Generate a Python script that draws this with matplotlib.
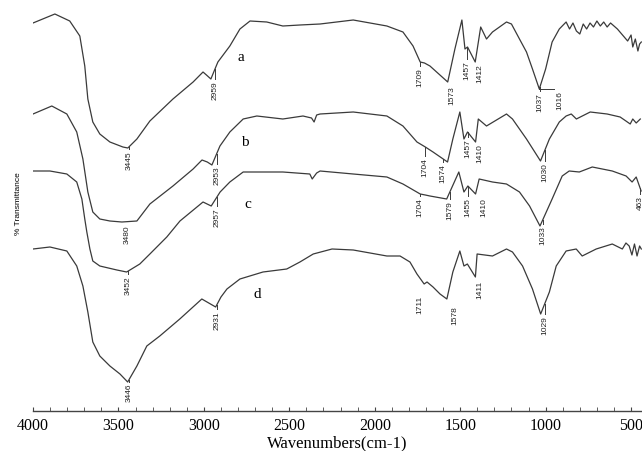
import matplotlib.pyplot as plt
import numpy as np

# FTIR spectra a-d (transmittance in arbitrary offset units)
wn_a = [4000, 3872, 3785, 3726, 3697, 3679, 3650, 3609, 3550, 3474, 3445, 3392, 3316, 3181,
        3063, 3005, 2985, 2959, 2935, 2918, 2848, 2789, 2730, 2632, 2538, 2438, 2320, 2126,
        1929, 1835, 1776, 1734, 1709, 1677, 1573, 1531, 1490, 1472, 1457, 1412, 1380, 1346,
        1311, 1229, 1200, 1153, 1112, 1077, 1037, 1000, 962, 920, 880, 860, 840, 820, 800,
        780, 760, 740, 720, 700, 680, 660, 640, 620, 600, 580, 560, 540, 520, 500, 490, 475,
        460, 450, 440]
t_a = [426, 435, 428, 413, 383, 350, 327, 315, 307, 302, 301, 310, 328, 350,
       367, 377, 374, 370, 380, 387, 403, 420, 428, 427, 423, 424, 425, 429,
       423, 417, 403, 387, 386, 383, 367, 400, 429, 400, 402, 387, 422, 410,
       417, 427, 425, 410, 397, 380, 360, 380, 407, 420, 427, 420, 426, 418, 415,
       425, 420, 426, 422, 428, 423, 427, 422, 426, 423, 420, 416, 412, 408, 414, 402, 410,
       398, 405, 407]

wn_b = [4000, 3890, 3802, 3744, 3708, 3679, 3650, 3609, 3550, 3480, 3392, 3316, 3181, 3063,
        3011, 2980, 2953, 2906, 2848, 2770, 2690, 2538, 2420, 2370, 2355, 2340, 2320, 2126,
        1929, 1835, 1753, 1704, 1659, 1574, 1543, 1502, 1478, 1457, 1410, 1394, 1346, 1229,
        1194, 1112, 1030, 978, 920, 880, 850, 820, 797, 739, 640, 564, 530, 505, 490, 470, 446]
t_b = [335, 343, 335, 317, 290, 257, 237, 230, 228, 227, 228, 245, 263, 280,
       289, 287, 284, 303, 317, 330, 333, 330, 333, 331, 327, 334, 335, 337,
       333, 323, 307, 302, 297, 287, 310, 337, 310, 317, 307, 330, 323, 335,
       330, 310, 288, 310, 327, 333, 335, 330, 332, 337, 335, 332, 328, 325, 330, 326, 330]

wn_c = [4000, 3901, 3802, 3744, 3714, 3697, 3685, 3667, 3650, 3609, 3509, 3452, 3375, 3316,
        3217, 3140, 3005, 2957, 2905, 2848, 2770, 2672, 2538, 2380, 2366, 2340, 2320, 2126,
        1929, 1835, 1734, 1704, 1677, 1579, 1508, 1478, 1455, 1410, 1389, 1311, 1229, 1153,
        1094, 1033, 962, 903, 862, 803, 727, 610, 529, 494, 470, 441]
t_c = [278, 278, 275, 267, 250, 230, 217, 200, 188, 183, 179, 177, 185, 195,
       212, 228, 247, 243, 257, 267, 277, 277, 277, 275, 270, 276, 278, 275,
       272, 265, 255, 254, 253, 250, 277, 257, 263, 255, 270, 267, 265, 257,
       243, 223, 250, 273, 278, 277, 282, 278, 273, 267, 272, 258]

wn_d = [4000, 3901, 3802, 3744, 3708, 3679, 3650, 3609, 3550, 3491, 3446, 3392, 3334, 3258,
        3141, 3012, 2931, 2900, 2865, 2789, 2654, 2515, 2438, 2360, 2250, 2126, 1929, 1852,
        1794, 1753, 1711, 1694, 1659, 1618, 1578, 1543, 1502, 1478, 1458, 1411, 1401, 1311,
        1229, 1194, 1135, 1077, 1029, 978, 938, 880, 821, 786, 704, 610, 551, 530, 511, 495,
        480, 465, 450, 440]
t_d = [200, 202, 198, 183, 163, 137, 107, 93, 83, 75, 67, 83, 103, 113,
       130, 150, 142, 152, 160, 170, 177, 180, 187, 195, 200, 199, 193, 193,
       187, 175, 165, 167, 162, 155, 150, 177, 198, 183, 185, 172, 195, 193,
       200, 197, 183, 160, 135, 157, 183, 198, 200, 193, 200, 205, 200, 206, 203, 194,
       205, 193, 203, 200]

curve_names = ['a', 'b', 'c', 'd']
name_pos = [(2782, 393), (2759, 308), (2741, 246), (2688, 155)]

# peak labels: (text, x position, top of label)
peaks_a = [('3445', 3439, 300), ('2959', 2936, 370), ('1709', 1735, 383), ('1573', 1548, 365),
           ('1457', 1460, 390), ('1412', 1385, 387), ('1037', 1034, 358), ('1016', 916, 360)]
peaks_b = [('3480', 3450, 226), ('2953', 2925, 285), ('1704', 1706, 293), ('1574', 1601, 287),
           ('1457', 1455, 312), ('1410', 1385, 307), ('1030', 1005, 288)]
peaks_c = [('3452', 3444, 175), ('2957', 2925, 243), ('1704', 1735, 253), ('1579', 1560, 250),
           ('1455', 1455, 253), ('1410', 1360, 253), ('1033', 1016, 225), ('463', 448, 255)]
peaks_d = [('3446', 3440, 67), ('2931', 2925, 140), ('1711', 1735, 155), ('1578', 1530, 145),
           ('1411', 1385, 170), ('1029', 1005, 135)]

col = '#3a3a3a'
fig = plt.figure(figsize=(6.42, 4.52), dpi=100)
ax = fig.add_axes([33 / 642, 40 / 452, 609 / 642, 412 / 452])

series = [(wn_a, t_a, peaks_a), (wn_b, t_b, peaks_b), (wn_c, t_c, peaks_c), (wn_d, t_d, peaks_d)]
for (wn, t, peaks), name, pos in zip(series, curve_names, name_pos):
    ax.plot(wn, t, color=col, lw=0.9)
    ax.text(pos[0], pos[1], name, family='Liberation Serif', fontsize=11, ha='center', va='center')
    wn_r, t_r = np.array(wn)[::-1], np.array(t)[::-1]
    for txt, x, top in peaks:
        yc = np.interp(x, wn_r, t_r)
        gap = yc - top
        # short marker between the curve and the label
        if 1.5 < gap < 15:
            ax.plot([x, x], [top + gap, top], color=col, lw=0.7)
        ax.text(x, top - 1, txt, rotation=90, ha='center', va='top', fontsize=6,
                family='Liberation Sans', color='#222222', clip_on=True)

# leader for the 1016 label
ax.plot([1037, 950], [360, 360], color=col, lw=0.7)

ax.set_xlim(4000, 436)
ax.set_ylim(38, 450)
ax.set_yticks([])
for s in ['left', 'top', 'right']:
    ax.spines[s].set_visible(False)
ax.spines['bottom'].set_color('#444444')
ax.spines['bottom'].set_linewidth(1.0)
ax.set_xticks([4000, 3500, 3000, 2500, 2000, 1500, 1000, 500])
ax.set_xticks(np.arange(4000, 436, -100), minor=True)
ax.tick_params(axis='x', which='both', direction='in', length=3, color='#444444', pad=4)
for lab in ax.get_xticklabels():
    lab.set_family('Liberation Serif')
    lab.set_fontsize(11.5)
ax.set_xlabel('Wavenumbers(cm-1)', family='Liberation Serif', fontsize=12, labelpad=1)

fig.text(19 / 642, 1 - 204 / 452, '% Transmittance', rotation=90, ha='center', va='center',
         fontsize=6, family='Liberation Sans')

fig.savefig('out.png', dpi=100)
